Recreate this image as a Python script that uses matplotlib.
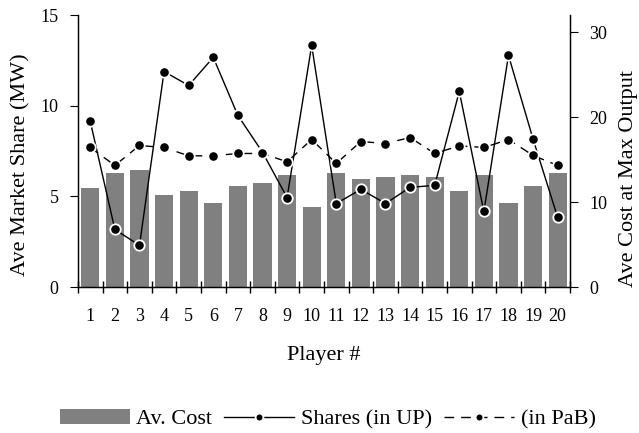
import matplotlib.pyplot as plt
import numpy as np

plt.rcParams['font.family'] = ['Liberation Serif', 'DejaVu Serif']

players = list(range(1, 21))
av_cost = [11.7, 13.4, 13.8, 10.8, 11.25, 9.85, 11.95, 12.2, 13.15, 9.4,
           13.4, 12.7, 12.9, 13.15, 12.9, 11.25, 13.15, 9.85, 11.95, 13.4]
shares_up = [9.14, 3.18, 2.30, 11.89, 11.12, 12.67, 9.47, 7.44, 4.94, 13.33,
             4.61, 5.39, 4.61, 5.50, 5.61, 10.79, 4.17, 12.78, 8.16, 3.84]
shares_pab = [7.70, 6.71, 7.81, 7.70, 7.24, 7.24, 7.37, 7.37, 6.91, 8.14,
              6.82, 8.03, 7.92, 8.25, 7.37, 7.79, 7.70, 8.14, 7.26, 6.71]

fig = plt.figure(figsize=(6.39, 4.33), dpi=100)
ax = fig.add_axes([0.122, 0.337, 0.77, 0.628])
ax2 = ax.twinx()

# bars go on the cost axis (right), lines on the share axis (left)
ax2.bar(players, av_cost, width=0.74, color='#808080', label='Av. Cost', zorder=1)
ax.set_zorder(ax2.get_zorder() + 1)
ax.patch.set_visible(False)

mk = dict(marker='o', markersize=7.5, markerfacecolor='black',
          markeredgecolor='white', markeredgewidth=1.3, color='black', linewidth=1)
ax.plot(players, shares_up, linestyle='-', label='Shares (in UP)', **mk)
ax.plot(players, shares_pab, linestyle=(0, (7, 5)), label='(in PaB)', **mk)

ax.set_xlim(0.5, 20.5)
ax.set_ylim(0, 15)
ax2.set_ylim(0, 32)
ax.set_yticks([0, 5, 10, 15])
ax2.set_yticks([0, 10, 20, 30])

ax.set_xticks(players)
ax.set_xticks(np.arange(0.5, 21, 1), minor=True)
ax.tick_params(axis='x', which='major', length=0, pad=15, labelsize=13)
ax.tick_params(axis='x', which='minor', length=8, direction='inout', width=1)
ax.tick_params(axis='y', length=6, labelsize=13, pad=8)
ax2.tick_params(axis='y', length=6, labelsize=13, pad=8)

for a in (ax, ax2):
    a.spines['top'].set_visible(False)
    for s in a.spines.values():
        s.set_linewidth(0.9)

ax.set_ylabel('Ave Market Share (MW)', fontsize=16, labelpad=7)
ax2.set_ylabel('Ave Cost at Max Output', fontsize=16, labelpad=8)
ax.yaxis.label.set_y(0.45)
ax2.yaxis.label.set_y(0.40)
ax.set_xlabel('Player #', fontsize=16, labelpad=15)

h1, l1 = ax2.get_legend_handles_labels()
h2, l2 = ax.get_legend_handles_labels()
fig.legend(h1 + h2, l1 + l2, loc='center', bbox_to_anchor=(0.513, 0.032), ncol=3,
           frameon=False, fontsize=16, handlelength=3.15, handletextpad=0.3,
           columnspacing=0.55, markerscale=0.75, borderpad=0, borderaxespad=0)

fig.savefig('out.png', dpi=100)
